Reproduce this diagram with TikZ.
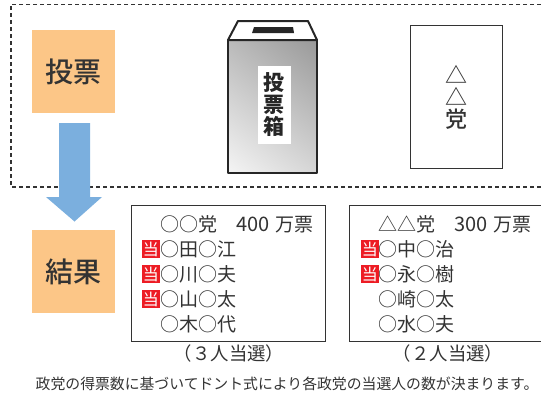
\documentclass[tikz,border=0pt]{standalone}
\usepackage{fontspec}
\usetikzlibrary{shadings}
\setmainfont{Noto Sans CJK JP}
\newfontfamily\medfont{Noto Sans CJK JP Medium}
\definecolor{orbox}{HTML}{FCC687}
\definecolor{arrowblue}{HTML}{7BAFDE}
\definecolor{ink}{HTML}{333333}
\definecolor{tousen}{HTML}{ED1C24}
\tikzset{
  stepbox/.style={fill=orbox,minimum width=83pt,minimum height=83pt,inner sep=0pt,text=ink,font=\medfont\fontsize{28}{28}\selectfont},
  framebox/.style={draw=ink,line width=1pt,fill=white,inner sep=0pt},
  row/.style={anchor=west,inner sep=0pt,text=ink,font=\fontsize{19}{19}\selectfont},
  mark box/.style={fill=tousen,text=white,minimum width=18pt,minimum height=18pt,inner sep=0pt,anchor=east,font=\fontsize{16}{16}\selectfont},
  caption text/.style={inner sep=0pt,text=ink,font=\fontsize{18.4}{18.4}\selectfont},
  edge dash/.style={draw=ink,line width=1.1pt,dash pattern=on 4pt off 3pt},
}
\newcommand{\votes}[1]{{\fontsize{20}{20}\selectfont #1}\hspace{0.3em}}
\begin{document}
\begin{tikzpicture}[x=1pt,y=-1pt]
\useasboundingbox (0,0) rectangle (541,397);
% dashed region, open at the right
\draw[edge dash] (541,4.2) -- (11,4.2) -- (11,187) -- (541,187);
% step boxes
\node[stepbox] (vote) at (73.5,71.5) {投票};
\node[stepbox] (result) at (73.5,271.5) {結果};
% block arrow
\fill[arrowblue] (59,123) -- (90,123) -- (90,197) -- (102,197) -- (74.5,221.5) -- (46,197) -- (59,197) -- cycle;
% ballot box
\shade[upper left=black!27,upper right=black!40,lower left=black!4,lower right=black!16] (228,40) rectangle (317,173);
\draw[line width=2pt,draw=black!85,line join=round,fill=white] (228,40) -- (238,21) -- (308,21) -- (317,40) -- cycle;
\draw[line width=2pt,draw=black!85,line join=round] (228,40) rectangle (317,173);
\fill[black!85] (254,27) -- (293,27) -- (294,33) -- (252,33) -- cycle;
\node[fill=white,minimum width=33pt,minimum height=78pt,inner sep=0pt] (label) at (274,105) {};
\node[inner sep=0pt,align=center,text=black!85,font=\fontsize{21}{22}\bfseries\selectfont] (labeltext) at (label.center) {投\\票\\箱};
% ballot paper
\node[framebox,minimum width=92pt,minimum height=143pt] (paper) at (456,96.5) {};
\node[inner sep=0pt,align=center,text=ink,font=\medfont\fontsize{22}{22}\selectfont] (papertext) at ([yshift=-1pt]paper.center) {△\\△\\党};
% result boxes
\node[framebox,minimum width=194pt,minimum height=135.5pt] (boxa) at (228,273.25) {};
\draw[draw=ink,line width=1pt] (541,205.5) -- (349.5,205.5) -- (349.5,341) -- (541,341);
% party A
\node[row] (a0) at (160.5,224) {○○党　\votes{400}万票};
\node[row] (a1) at (160.5,249) {○田○江};
\node[row] (a2) at (160.5,274) {○川○夫};
\node[row] (a3) at (160.5,299) {○山○太};
\node[row] (a4) at (160.5,324) {○木○代};
\node[mark box] (ma1) at (160,249) {当};
\node[mark box] (ma2) at (160,274) {当};
\node[mark box] (ma3) at (160,299) {当};
% party B
\node[row] (b0) at (378.5,224) {△△党　\votes{300}万票};
\node[row] (b1) at (378.5,249) {○中○治};
\node[row] (b2) at (378.5,274) {○永○樹};
\node[row] (b3) at (378.5,299) {○崎○太};
\node[row] (b4) at (378.5,324) {○水○夫};
\node[mark box] (mb1) at (379,249) {当};
\node[mark box] (mb2) at (379,274) {当};
% captions
\node[caption text] (capa) at (229,354) {（３人当選）};
\node[caption text] (capb) at (448,354) {（２人当選）};
\node[inner sep=0pt,anchor=west,text=ink,font=\fontsize{14.85}{15}\selectfont] (foot) at (35.5,384) {政党の得票数に基づいてドント式により各政党の当選人の数が決まります。};
\end{tikzpicture}
\end{document}
